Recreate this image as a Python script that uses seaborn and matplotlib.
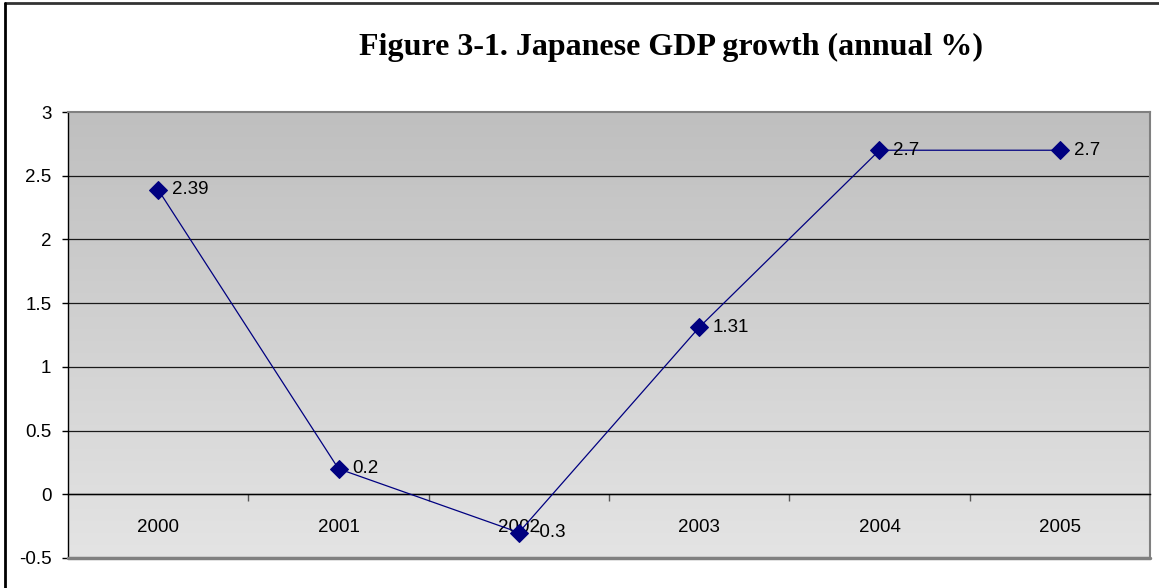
import numpy as np
import pandas as pd
import matplotlib
matplotlib.use("Agg")
import matplotlib.pyplot as plt
from matplotlib.lines import Line2D
import seaborn as sns

years = ["2000", "2001", "2002", "2003", "2004", "2005"]
growth = [2.39, 0.2, -0.3, 1.31, 2.7, 2.7]
y_ticks = [-0.5, 0, 0.5, 1, 1.5, 2, 2.5, 3]
y_tick_labels = ["-0.5", "0", "0.5", "1", "1.5", "2", "2.5", "3"]
title = "Figure 3-1. Japanese GDP growth (annual %)"

sns.set_style("white")
plt.rcParams["font.family"] = ["Liberation Sans", "DejaVu Sans"]
plt.rcParams["text.color"] = "black"
plt.rcParams["xtick.color"] = "black"
plt.rcParams["ytick.color"] = "black"

df = pd.DataFrame({"year": years, "growth": growth})

W, H = 1159, 588
fig = plt.figure(figsize=(W / 100, H / 100), dpi=100)
ax = fig.add_axes([68 / W, 1 - 558 / H, (1150 - 68) / W, (558 - 112) / H])

# vertical grey gradient behind the plot area
grad = np.linspace(0, 1, 256).reshape(-1, 1)
ax.imshow(grad, extent=[0, 1, 0, 1], transform=ax.transAxes, aspect="auto",
          cmap=matplotlib.colors.LinearSegmentedColormap.from_list(
              "g", ["#e4e4e4", "#bfbfbf"]),
          origin="lower", zorder=0)

for yv in y_ticks[1:-1]:
    ax.axhline(yv, color="#1a1a1a", lw=0.9, zorder=1)

sns.lineplot(data=df, x="year", y="growth", ax=ax, color="#000080",
             lw=0.9, marker="D", markersize=9, markeredgecolor="#000080",
             zorder=3, sort=False)

for i, v in enumerate(growth):
    ax.annotate(str(v), (i, v), xytext=(10, 0), textcoords="offset points",
                ha="left", va="center", fontsize=13.5, color="black", zorder=4)

ax.spines["bottom"].set_position(("data", 0))
ax.spines["bottom"].set_color("black")
ax.spines["bottom"].set_linewidth(1.0)
ax.spines["left"].set_color("black")
ax.spines["left"].set_linewidth(1.0)
for s in ("top", "right"):
    ax.spines[s].set_color("#808080")
    ax.spines[s].set_linewidth(1.5)
ax.axhline(-0.5, color="#808080", lw=2.5, clip_on=False, zorder=5)

ax.set_xlim(-0.5, len(years) - 0.5)
ax.set_ylim(-0.5, 3)
ax.set_yticks(y_ticks)
ax.set_yticklabels(y_tick_labels)
ax.set_xticks(range(len(years)))
ax.set_xticklabels(years)
ax.set_xticks(np.arange(0.5, len(years) - 0.5, 1), minor=True)
ax.set_xlabel("")
ax.set_ylabel("")

ax.tick_params(axis="y", direction="out", length=4, width=1, color="black",
               pad=8, left=True, labelsize=13.5, labelcolor="black")
ax.tick_params(axis="x", which="major", length=0, pad=18, bottom=True,
               labelsize=13.5, labelcolor="black")
ax.tick_params(axis="x", which="minor", direction="out", length=5,
               width=1, color="#555555", bottom=True)

fig.text(671 / W, 1 - 47 / H, title, ha="center", va="center",
         fontsize=23, fontweight="bold", color="black",
         family=["Liberation Serif", "DejaVu Serif"])

# chart frame edges
fig.add_artist(Line2D([5 / W, 1], [1 - 2.5 / H, 1 - 2.5 / H],
                      transform=fig.transFigure, color="#333333", lw=2))
fig.add_artist(Line2D([5 / W, 5 / W], [0, 1 - 2.5 / H],
                      transform=fig.transFigure, color="black", lw=2))

fig.savefig("out.png", dpi=100)
